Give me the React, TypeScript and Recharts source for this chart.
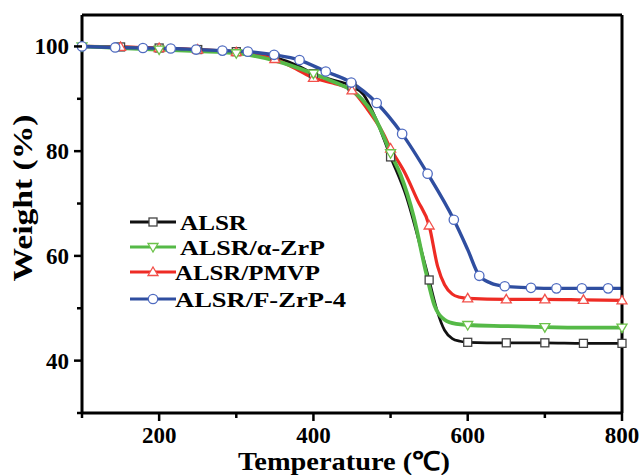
import { ComposedChart, Line, XAxis, YAxis, ReferenceLine, Legend } from 'recharts';

// TGA curves (temperature in °C, weight in %)
const alsrT = [100, 150, 200, 250, 300, 350, 380, 400, 420, 450, 465, 480, 500, 520, 540, 550, 560, 570, 580, 590, 600, 650, 700, 750, 800];
const alsrW = [100, 99.9, 99.7, 99.4, 99.0, 97.9, 96.3, 94.8, 93.8, 92.4, 90.8, 86.5, 78.9, 71.5, 61.0, 55.4, 49.7, 45.8, 44.2, 43.7, 43.5, 43.4, 43.4, 43.3, 43.3];
const alsrMarks = [150, 200, 250, 300, 350, 400, 450, 500, 550, 600, 650, 700, 750, 800];

const zrpT = [100, 150, 200, 250, 300, 350, 400, 430, 450, 475, 490, 500, 513, 530, 546, 557, 570, 585, 600, 650, 700, 750, 800];
const zrpW = [100, 99.7, 99.4, 99.1, 98.7, 97.3, 94.8, 93.0, 91.6, 87.6, 83.2, 79.6, 75.5, 67.5, 56.8, 50.5, 47.8, 47.0, 46.8, 46.6, 46.4, 46.3, 46.3];
const zrpMarks = [100, 200, 300, 400, 500, 600, 700, 800];

const pmvpT = [100, 150, 200, 250, 300, 350, 380, 400, 425, 450, 470, 490, 500, 518, 535, 550, 561, 570, 580, 590, 600, 650, 700, 750, 800];
const pmvpW = [100, 99.9, 99.7, 99.4, 98.9, 97.6, 95.5, 94.0, 93.0, 91.6, 88.0, 83.5, 80.5, 76.0, 70.6, 65.8, 58.0, 54.5, 52.7, 52.1, 51.9, 51.7, 51.7, 51.6, 51.5];
const pmvpMarks = [150, 200, 250, 300, 350, 400, 450, 500, 550, 600, 650, 700, 750, 800];

const fzrpT = [100, 143, 179, 215, 248, 282, 315, 349, 382, 416, 449, 482, 515, 548, 582, 600, 615, 630, 648, 682, 715, 748, 782, 800];
const fzrpW = [100, 99.8, 99.7, 99.6, 99.4, 99.2, 99.0, 98.4, 97.4, 95.2, 93.1, 89.2, 83.3, 75.7, 66.9, 61.2, 56.2, 54.8, 54.2, 53.9, 53.8, 53.8, 53.8, 53.8];
const fzrpMarks = [100, 143, 179, 215, 248, 282, 315, 349, 382, 416, 449, 482, 515, 548, 582, 615, 648, 682, 715, 748, 782];

const xTicks = [100, 200, 300, 400, 500, 600, 700, 800];
const yTicks = [30, 40, 50, 60, 70, 80, 90, 100];

const legendNames = ['ALSR', 'ALSR/\u03b1-ZrP', 'ALSR/PMVP', 'ALSR/F-ZrP-4'];

const toPoints = (t: number[], w: number[]) => t.map((x, i) => ({ t: x, w: w[i] }));

const FONT = '"Times New Roman", "Liberation Serif", serif';

const series = [
  { name: legendNames[0], data: toPoints(alsrT, alsrW), marks: alsrMarks, line: '#111111', mark: '#444444', shape: 'square', width: 2.7 },
  { name: legendNames[2], data: toPoints(pmvpT, pmvpW), marks: pmvpMarks, line: '#ee2b24', mark: '#f2504a', shape: 'up', width: 3.2 },
  { name: legendNames[1], data: toPoints(zrpT, zrpW), marks: zrpMarks, line: '#55b947', mark: '#6cc24a', shape: 'down', width: 3.8 },
  { name: legendNames[3], data: toPoints(fzrpT, fzrpW), marks: fzrpMarks, line: '#2f4ea0', mark: '#4f6bc0', shape: 'circle', width: 3.4 },
];

function Marker({ cx, cy, shape, color }: { cx: number; cy: number; shape: string; color: string }) {
  const sw = 1.3;
  if (shape === 'square') {
    return <rect x={cx - 4} y={cy - 4} width={8} height={8} fill="#fff" stroke={color} strokeWidth={sw} />;
  }
  if (shape === 'up') {
    return <polygon points={`${cx - 5},${cy + 3.5} ${cx + 5},${cy + 3.5} ${cx},${cy - 5}`} fill="#fff" stroke={color} strokeWidth={sw} />;
  }
  if (shape === 'down') {
    return <polygon points={`${cx - 5},${cy - 3.5} ${cx + 5},${cy - 3.5} ${cx},${cy + 5}`} fill="#fff" stroke={color} strokeWidth={sw} />;
  }
  return <circle cx={cx} cy={cy} r={4.7} fill="#fff" stroke={color} strokeWidth={sw} />;
}

const makeDot = (marks: number[], shape: string, color: string) => (p: any) => {
  const { cx, cy, payload, index } = p;
  if (!marks.includes(payload.t)) return <g key={`e-${index}`} />;
  return (
    <g key={`m-${index}`}>
      <Marker cx={cx} cy={cy} shape={shape} color={color} />
    </g>
  );
};

const XTick = (p: any) => {
  const { x, y, payload } = p;
  const major = payload.value % 200 === 0;
  return (
    <g>
      <line x1={x} x2={x} y1={y} y2={y + (major ? 8 : 5)} stroke="#000" strokeWidth={2.5} />
      {major && (
        <text x={x} y={y + 30} textAnchor="middle" fontFamily={FONT} fontWeight="bold" fontSize={23} fill="#000">
          {payload.value}
        </text>
      )}
    </g>
  );
};

const YTick = (p: any) => {
  const { x, y, payload } = p;
  const major = payload.value % 20 === 0;
  return (
    <g>
      <line x1={x} x2={x - (major ? 8 : 5)} y1={y} y2={y} stroke="#000" strokeWidth={2.5} />
      {major && (
        <text x={x - 13} y={y + 8} textAnchor="end" fontFamily={FONT} fontWeight="bold" fontSize={23} fill="#000">
          {payload.value}
        </text>
      )}
    </g>
  );
};

const XTitle = (p: any) => {
  const vb = p.viewBox;
  return (
    <text
      x={vb.x + vb.width / 2 - 8}
      y={vb.y + 57}
      textAnchor="middle"
      fontFamily={FONT}
      fontWeight="bold"
      fontSize={26}
      fill="#000"
      textLength={212}
      lengthAdjust="spacingAndGlyphs"
    >
      Temperature (℃)
    </text>
  );
};

const YTitle = (p: any) => {
  const vb = p.viewBox;
  const cx = 32;
  const cy = vb.y + vb.height / 2 - 16;
  return (
    <text
      x={cx}
      y={cy}
      textAnchor="middle"
      transform={`rotate(-90 ${cx} ${cy})`}
      fontFamily={FONT}
      fontWeight="bold"
      fontSize={27}
      fill="#000"
      textLength={167}
      lengthAdjust="spacingAndGlyphs"
    >
      Weight (%)
    </text>
  );
};

function LegendBox() {
  const rows = [
    { y: 22, tx: 60, len: 67, s: series[0] },
    { y: 47, tx: 60, len: 145, s: series[2] },
    { y: 72, tx: 55, len: 145, s: series[1] },
    { y: 99, tx: 55, len: 171, s: series[3] },
  ];
  return (
    <svg width={260} height={115}>
      {rows.map((r) => (
        <g key={r.s.name}>
          <line x1={10} x2={56} y1={r.y} y2={r.y} stroke={r.s.line} strokeWidth={3} />
          <Marker cx={33} cy={r.y} shape={r.s.shape} color={r.s.mark} />
          <text
            x={r.tx}
            y={r.y + 7.5}
            fontFamily={FONT}
            fontWeight="bold"
            fontSize={22}
            fill="#000"
            textLength={r.len}
            lengthAdjust="spacingAndGlyphs"
          >
            {r.s.name}
          </text>
        </g>
      ))}
    </svg>
  );
}

export default function App() {
  return (
    <div style={{ position: 'absolute', left: 0, top: 0, width: 641, height: 475, background: '#fff' }}>
      <ComposedChart width={641} height={475} margin={{ top: 15, right: 19, bottom: 0, left: 0 }}>
        <XAxis
          dataKey="t"
          type="number"
          domain={[100, 800]}
          ticks={xTicks}
          height={62}
          tickSize={0}
          tickMargin={0}
          tickLine={false}
          tick={<XTick />}
          axisLine={{ stroke: '#000', strokeWidth: 3 }}
          label={{ content: <XTitle /> }}
        />
        <YAxis
          type="number"
          domain={[30, 106]}
          ticks={yTicks}
          width={82}
          tickSize={0}
          tickMargin={0}
          tickLine={false}
          tick={<YTick />}
          axisLine={{ stroke: '#000', strokeWidth: 3 }}
          label={{ content: <YTitle /> }}
        />
        <Legend
          layout="vertical"
          align="center"
          verticalAlign="middle"
          content={() => <LegendBox />}
          wrapperStyle={{ position: 'absolute', left: 120, top: 200, width: 260, height: 115 }}
        />
        {series.map((s) => (
          <Line
            key={s.name}
            name={s.name}
            data={s.data}
            dataKey="w"
            type="monotone"
            stroke={s.line}
            strokeWidth={s.width}
            dot={makeDot(s.marks, s.shape, s.mark)}
            activeDot={false}
            isAnimationActive={false}
          />
        ))}
        <ReferenceLine y={106} stroke="#000" strokeWidth={3} />
        <ReferenceLine x={800} stroke="#000" strokeWidth={3} />
      </ComposedChart>
    </div>
  );
}
